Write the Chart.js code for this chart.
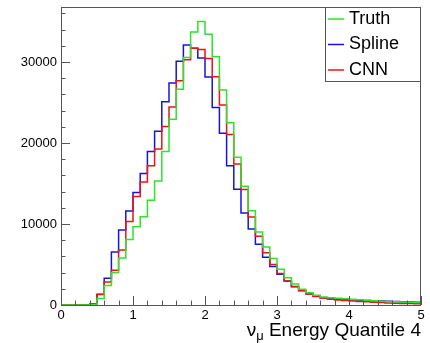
<!DOCTYPE html>
<html>
<head>
<meta charset="utf-8">
<script src="https://cdn.jsdelivr.net/npm/chart.js@4.4.1/dist/chart.umd.min.js"></script>
<style>
  html, body { margin: 0; padding: 0; background: #fff; }
  #wrap { width: 430px; height: 343px; position: relative; }
</style>
</head>
<body>
<div id="wrap"><canvas id="histo"></canvas></div>
<script>
// --- histogram data: 50 bins of width 0.1 from 0 to 5 ---
const binWidth = 0.1;
const truthCounts = [
    0, 0, 0, 0, 50, 800, 2400, 4000, 5800, 8100,
    9650, 10900, 12950, 15300, 18950, 22950, 26650, 30550, 33700, 35000,
    33450, 30650, 26550, 22500, 18250, 14650, 11650, 9000, 7150, 5750,
    4400, 3380, 2600, 1950, 1500, 1200, 1000, 900, 820, 760,
    700, 640, 580, 520, 470, 430, 400, 360, 330, 300
];
const splineCounts = [
    0, 0, 0, 0, 150, 1300, 3300, 6550, 9260, 11600,
    13900, 16250, 18950, 21450, 25100, 27400, 30100, 32100, 31700, 30500,
    28150, 24400, 21200, 17200, 14300, 11350, 9370, 7500, 5900, 4750,
    3800, 2970, 2300, 1800, 1400, 1100, 900, 800, 720, 680,
    640, 600, 560, 520, 500, 460, 430, 400, 370, 350
];
const cnnCounts = [
    0, 0, 0, 0, 150, 1320, 2850, 4300, 6800, 10300,
    13400, 15200, 17200, 19250, 22050, 24450, 27700, 30300, 31700, 31550,
    30450, 28200, 24700, 21050, 17400, 14250, 10870, 8480, 6450, 5000,
    3900, 2950, 2250, 1750, 1350, 1050, 850, 720, 630, 560,
    500, 440, 390, 340, 300, 260, 230, 200, 170, 150
];
const seriesLabels = ['Truth', 'Spline', 'CNN'];
const xTicks = [0, 1, 2, 3, 4, 5];
const yTicks = [0, 10000, 20000, 30000];
const xRange = [0, 5];
const yRange = [0, 36800];
const axisTitle = ['\u03bd', '\u03bc', ' Energy Quantile 4'];

// bin contents -> step points at the lower bin edges (+ closing point)
function toSteps(counts) {
    const pts = counts.map((c, i) => ({ x: +(i * binWidth).toFixed(2), y: c }));
    pts.push({ x: +(counts.length * binWidth).toFixed(2), y: counts[counts.length - 1] });
    return pts;
}

const frameColor = '#555';
const labelFont = "'Liberation Sans', Arial, sans-serif";

// ROOT-like frame, inward ticks, legend box and axis title
const rootStyle = {
    id: 'rootStyle',
    afterDatasetsDraw(chart) {
        const { ctx, chartArea: a, scales } = chart;
        const xs = scales.x, ys = scales.y;
        ctx.save();
        ctx.strokeStyle = frameColor;
        ctx.lineWidth = 1;
        ctx.strokeRect(a.left + 0.5, a.top + 0.5, a.right - a.left - 1, a.bottom - a.top);

        ctx.beginPath();
        for (let v = 0; v <= 5.0001; v += 0.2) {
            const px = Math.round(xs.getPixelForValue(v)) + 0.5;
            const len = Math.abs(v - Math.round(v)) < 1e-6 ? 9 : 4.5;
            ctx.moveTo(px, a.bottom);
            ctx.lineTo(px, a.bottom - len);
        }
        for (let v = 0; v <= yRange[1]; v += 2000) {
            const py = Math.round(ys.getPixelForValue(v)) + 0.5;
            const len = v % 10000 === 0 ? 9 : 4.5;
            ctx.moveTo(a.left, py);
            ctx.lineTo(a.left + len, py);
        }
        ctx.stroke();

        // legend
        const lx = 325, ly = a.top, lw = a.right - 325, lh = 75;
        ctx.fillStyle = '#fff';
        ctx.fillRect(lx, ly, lw, lh);
        ctx.strokeRect(lx + 0.5, ly + 0.5, lw - 1, lh - 1);
        ctx.font = '18px ' + labelFont;
        ctx.textBaseline = 'middle';
        seriesLabels.forEach((name, i) => {
            const ds = chart.data.datasets.find(d => d.label === name);
            const yy = ly + 12 + i * 25.5;
            ctx.strokeStyle = ds.borderColor;
            ctx.lineWidth = 1.5;
            ctx.beginPath();
            ctx.moveTo(328, yy);
            ctx.lineTo(344, yy);
            ctx.stroke();
            ctx.fillStyle = '#000';
            ctx.fillText(name, 349, yy);
        });

        // x axis title, right aligned at frame edge
        ctx.fillStyle = '#000';
        ctx.textBaseline = 'alphabetic';
        ctx.font = '19px ' + labelFont;
        const mainW = ctx.measureText(axisTitle[2]).width;
        ctx.font = '13px ' + labelFont;
        const subW = ctx.measureText(axisTitle[1]).width;
        ctx.font = '19px ' + labelFont;
        const nuW = ctx.measureText(axisTitle[0]).width;
        let tx = a.right - mainW - subW - nuW;
        const base = 336;
        ctx.fillText(axisTitle[0], tx, base);
        tx += nuW;
        ctx.font = '13px ' + labelFont;
        ctx.fillText(axisTitle[1], tx, base + 4);
        tx += subW;
        ctx.font = '19px ' + labelFont;
        ctx.fillText(axisTitle[2], tx, base);
        ctx.restore();
    }
};

const commonLine = {
    stepped: 'before',
    pointRadius: 0,
    borderWidth: 1.5,
    fill: false
};

new Chart(document.getElementById('histo'), {
    type: 'line',
    data: {
        datasets: [
            { ...commonLine, label: 'Truth', data: toSteps(truthCounts), borderColor: 'rgb(45, 228, 45)', order: 0 },
            { ...commonLine, label: 'CNN', data: toSteps(cnnCounts), borderColor: 'rgb(235, 20, 20)', order: 1 },
            { ...commonLine, label: 'Spline', data: toSteps(splineCounts), borderColor: 'rgb(20, 20, 225)', order: 2 }
        ]
    },
    options: {
        responsive: true,
        maintainAspectRatio: false,
        animation: false,
        layout: { padding: { left: 0, right: 9, top: 7, bottom: 0 } },
        plugins: {
            legend: { display: false },
            tooltip: { enabled: false }
        },
        scales: {
            x: {
                type: 'linear',
                min: xRange[0],
                max: xRange[1],
                grid: { display: false, drawTicks: false },
                border: { display: false },
                afterBuildTicks: s => { s.ticks = xTicks.map(v => ({ value: v })); },
                afterFit: s => { s.height = 38; s.paddingLeft = 0; s.paddingRight = 0; },
                ticks: {
                    color: '#000',
                    padding: 3,
                    maxRotation: 0,
                    font: { size: 13, family: labelFont },
                    callback: v => String(v)
                }
            },
            y: {
                min: yRange[0],
                max: yRange[1],
                grid: { display: false, drawTicks: false },
                border: { display: false },
                afterBuildTicks: s => { s.ticks = yTicks.map(v => ({ value: v })); },
                afterFit: s => { s.width = 61; s.paddingTop = 0; s.paddingBottom = 0; },
                ticks: {
                    color: '#000',
                    padding: 4,
                    font: { size: 13, family: labelFont },
                    callback: v => String(v)
                }
            }
        }
    },
    plugins: [rootStyle]
});
</script>
</body>
</html>
